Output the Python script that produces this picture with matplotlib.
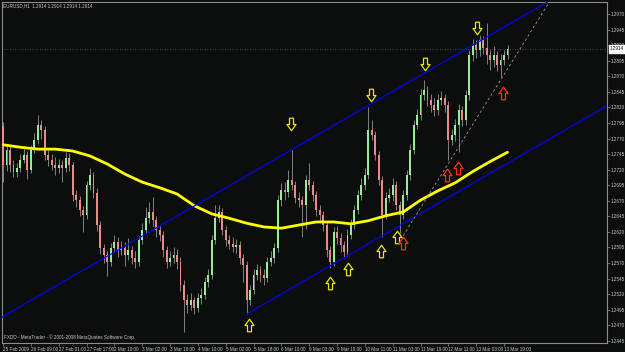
import matplotlib
matplotlib.use("Agg")
from matplotlib import pyplot as plt
from matplotlib.path import Path
import matplotlib.transforms as mtransforms
import numpy as np

plt.rcParams["font.family"] = ["Liberation Sans", "DejaVu Sans"]

# EURUSD H1 (25 Feb - 13 Mar 2009), one candle per 2 hours
first_open = 1.2790
closes = [1.2728, 1.2752, 1.2728, 1.2716, 1.2723, 1.2736, 1.2744, 1.2720, 1.2752, 1.2768,
          1.2792, 1.2784, 1.2744, 1.2736, 1.2728, 1.2723, 1.2728, 1.2723, 1.2739, 1.2728,
          1.2679, 1.2671, 1.2655, 1.2647, 1.2695, 1.2711, 1.2683, 1.2631, 1.2594, 1.2583,
          1.2572, 1.2594, 1.2604, 1.2591, 1.2594, 1.2583, 1.2591, 1.2578, 1.2572, 1.2607,
          1.2623, 1.2642, 1.2652, 1.2639, 1.2623, 1.2615, 1.2591, 1.2572, 1.2578, 1.2583,
          1.2572, 1.2535, 1.2511, 1.2503, 1.2511, 1.2498, 1.2514, 1.2519, 1.2540, 1.2551,
          1.2607, 1.2642, 1.2652, 1.2623, 1.2607, 1.2601, 1.2596, 1.2599, 1.2578, 1.2567,
          1.2511, 1.2527, 1.2551, 1.2559, 1.2551, 1.2546, 1.2572, 1.2578, 1.2594, 1.2671,
          1.2687, 1.2684, 1.2703, 1.2695, 1.2675, 1.2671, 1.2663, 1.2703, 1.2695, 1.2679,
          1.2655, 1.2647, 1.2631, 1.2591, 1.2572, 1.2620, 1.2610, 1.2599, 1.2588, 1.2615,
          1.2631, 1.2655, 1.2679, 1.2695, 1.2711, 1.2784, 1.2776, 1.2744, 1.2703, 1.2647,
          1.2675, 1.2679, 1.2695, 1.2663, 1.2647, 1.2679, 1.2711, 1.2752, 1.2792, 1.2808,
          1.2840, 1.2848, 1.2832, 1.2824, 1.2816, 1.2832, 1.2835, 1.2824, 1.2768, 1.2776,
          1.2792, 1.2816, 1.2800, 1.2840, 1.2904, 1.2920, 1.2912, 1.2928, 1.2915, 1.2904,
          1.2896, 1.2904, 1.2888, 1.2896, 1.2904, 1.2914]
highs = [1.2796, 1.2760, 1.2758, 1.2735, 1.2731, 1.2745, 1.2755, 1.2750, 1.2760, 1.2779,
         1.2808, 1.2800, 1.2790, 1.2752, 1.2745, 1.2740, 1.2737, 1.2735, 1.2748, 1.2747,
         1.2733, 1.2688, 1.2678, 1.2662, 1.2702, 1.2722, 1.2716, 1.2690, 1.2638, 1.2600,
         1.2590, 1.2602, 1.2615, 1.2612, 1.2606, 1.2604, 1.2610, 1.2598, 1.2590, 1.2614,
         1.2634, 1.2660, 1.2668, 1.2676, 1.2645, 1.2630, 1.2622, 1.2598, 1.2590, 1.2596,
         1.2592, 1.2580, 1.2542, 1.2520, 1.2522, 1.2516, 1.2522, 1.2530, 1.2548, 1.2560,
         1.2615, 1.2663, 1.2663, 1.2658, 1.2630, 1.2615, 1.2612, 1.2608, 1.2605, 1.2585,
         1.2574, 1.2535, 1.2560, 1.2568, 1.2566, 1.2560, 1.2580, 1.2590, 1.2602, 1.2680,
         1.2698, 1.2700, 1.2720, 1.2752, 1.2702, 1.2684, 1.2678, 1.2712, 1.2730, 1.2702,
         1.2686, 1.2664, 1.2654, 1.2638, 1.2598, 1.2628, 1.2630, 1.2618, 1.2606, 1.2624,
         1.2640, 1.2664, 1.2688, 1.2706, 1.2722, 1.2821, 1.2800, 1.2782, 1.2750, 1.2710,
         1.2684, 1.2690, 1.2706, 1.2702, 1.2670, 1.2688, 1.2720, 1.2762, 1.2800, 1.2818,
         1.2850, 1.2864, 1.2855, 1.2842, 1.2835, 1.2842, 1.2846, 1.2842, 1.2830, 1.2786,
         1.2802, 1.2825, 1.2822, 1.2848, 1.2912, 1.2930, 1.2928, 1.2936, 1.2935, 1.2956,
         1.2912, 1.2918, 1.2910, 1.2905, 1.2912, 1.2920]
lows = [1.2700, 1.2718, 1.2716, 1.2708, 1.2709, 1.2717, 1.2730, 1.2705, 1.2714, 1.2746,
        1.2762, 1.2770, 1.2735, 1.2726, 1.2720, 1.2712, 1.2714, 1.2700, 1.2716, 1.2718,
        1.2670, 1.2660, 1.2645, 1.2620, 1.2640, 1.2688, 1.2675, 1.2622, 1.2585, 1.2570,
        1.2550, 1.2565, 1.2588, 1.2580, 1.2583, 1.2566, 1.2575, 1.2568, 1.2562, 1.2566,
        1.2600, 1.2618, 1.2635, 1.2630, 1.2612, 1.2605, 1.2580, 1.2562, 1.2565, 1.2570,
        1.2560, 1.2525, 1.2459, 1.2490, 1.2495, 1.2488, 1.2492, 1.2505, 1.2512, 1.2532,
        1.2545, 1.2600, 1.2636, 1.2615, 1.2598, 1.2592, 1.2588, 1.2586, 1.2568, 1.2540,
        1.2488, 1.2502, 1.2520, 1.2542, 1.2540, 1.2535, 1.2540, 1.2565, 1.2570, 1.2588,
        1.2662, 1.2672, 1.2676, 1.2688, 1.2666, 1.2660, 1.2612, 1.2625, 1.2688, 1.2670,
        1.2646, 1.2638, 1.2622, 1.2580, 1.2562, 1.2566, 1.2600, 1.2588, 1.2578, 1.2582,
        1.2608, 1.2625, 1.2648, 1.2672, 1.2688, 1.2705, 1.2768, 1.2735, 1.2695, 1.2612,
        1.2640, 1.2668, 1.2670, 1.2655, 1.2618, 1.2640, 1.2672, 1.2704, 1.2745, 1.2785,
        1.2800, 1.2832, 1.2822, 1.2812, 1.2806, 1.2808, 1.2824, 1.2812, 1.2736, 1.2760,
        1.2766, 1.2749, 1.2790, 1.2792, 1.2832, 1.2895, 1.2900, 1.2902, 1.2905, 1.2890,
        1.2880, 1.2885, 1.2878, 1.2869, 1.2888, 1.2898]

# yellow moving average, sampled every 5 candles
ma_idx = [0, 5, 10, 15, 20, 25, 30, 35, 40, 45, 50, 55, 60, 65, 70,
          75, 80, 85, 90, 95, 100, 105, 110, 115, 120, 125, 130, 135, 140, 145]
ma_vals = [1.2760, 1.2756, 1.2753, 1.2753, 1.2750, 1.2742, 1.2729, 1.2713, 1.2700, 1.2691,
           1.2681, 1.2662, 1.2649, 1.2642, 1.2634, 1.2628, 1.2626, 1.2631, 1.2636, 1.2636,
           1.2633, 1.2638, 1.2646, 1.2652, 1.2671, 1.2686, 1.2699, 1.2717, 1.2733, 1.2748]

# trend lines: (candle index, price) anchor pairs
upper_line = [(-1, 1.2481), (157, 1.2991)]
lower_line = [(70, 1.2488), (170, 1.2811)]
dash_line = [(115, 1.2614), (157, 1.2989)]

# arrow objects
down_yellow_x = [82.8, 105.7, 121.3, 136.2]
down_yellow_y = [1.2793, 1.2840, 1.2890, 1.2948]
up_yellow_x = [70.7, 94.0, 99.1, 108.6, 113.2]
up_yellow_y = [1.2471, 1.2538, 1.2560, 1.2589, 1.2612]
up_red_x = [115.0, 127.6, 130.7, 143.7]
up_red_y = [1.2602, 1.2711, 1.2723, 1.2843]

last_price = 1.2914
xlabels = ["25 Feb 2009", "26 Feb 09:00", "27 Feb 01:00", "27 Feb 17:00", "2 Mar 10:00",
           "3 Mar 02:00", "3 Mar 18:00", "4 Mar 10:00", "5 Mar 02:00", "5 Mar 18:00",
           "6 Mar 10:00", "9 Mar 03:00", "9 Mar 19:00", "10 Mar 11:00", "11 Mar 03:00",
           "11 Mar 19:00", "12 Mar 11:00", "13 Mar 03:00", "13 Mar 19:00"]
yticks = [1.2445, 1.2470, 1.2495, 1.2520, 1.2545, 1.2570, 1.2595, 1.2620, 1.2645, 1.2670,
          1.2695, 1.2720, 1.2745, 1.2770, 1.2795, 1.2820, 1.2845, 1.2870, 1.2895, 1.2920,
          1.2945, 1.2970]

BG = "#0c0d0d"
GRID = "#8c8c8c"
TXT = "#c8c8c8"
FS = 3.3

fig = plt.figure(figsize=(6.25, 3.52), dpi=100, facecolor=BG)
ax = fig.add_axes([2 / 625, 9 / 352, 605 / 625, 341 / 352], facecolor=BG)

c = np.array(closes)
o = np.array([first_open] + closes[:-1])
x = np.arange(len(c))
up = c >= o

ax.vlines(x, lows, highs, color="#a0a0a0", lw=0.55, zorder=2)
body = np.where(np.abs(c - o) < 0.00008, 0.00008, c - o)
ax.bar(x[up], body[up], bottom=o[up], width=0.55, color="#98ec98", zorder=3)
ax.bar(x[~up], body[~up], bottom=o[~up], width=0.55, color="#f08888", zorder=3)

ax.plot(ma_idx, ma_vals, color="#ffff00", lw=2.0, solid_capstyle="round", zorder=4)


def ray(p, x_start, x_end):
    (x0, y0), (x1, y1) = p
    k = (y1 - y0) / (x1 - x0)
    return [x_start, x_end], [y0 + k * (x_start - x0), y0 + k * (x_end - x0)]


lx, ly = ray(upper_line, -5, 200)
ax.plot(lx, ly, color="#0000ff", lw=0.85, zorder=5)
lx, ly = ray(lower_line, lower_line[0][0], 200)
ax.plot(lx, ly, color="#0000ff", lw=0.85, zorder=5)
lx, ly = ray(dash_line, dash_line[0][0], 200)
ax.plot(lx, ly, color="#9a9a9a", lw=0.6, ls=(0, (3, 3)), zorder=5)

# hollow arrow markers
dn = Path([(-0.16, 0.5), (0.16, 0.5), (0.16, 0.0), (0.36, 0.0), (0.0, -0.5),
           (-0.36, 0.0), (-0.16, 0.0), (-0.16, 0.5)], closed=True)
upm = Path([(xx, -yy) for xx, yy in dn.vertices], closed=True)
ax.plot(down_yellow_x, down_yellow_y, ls="none", marker=dn, ms=9, mfc="none",
        mec="#e8e800", mew=0.9, zorder=6)
ax.plot(up_yellow_x, up_yellow_y, ls="none", marker=upm, ms=9, mfc="none",
        mec="#e8e800", mew=0.9, zorder=6)
ax.plot(up_red_x, up_red_y, ls="none", marker=upm, ms=9, mfc="none",
        mec="#ff3010", mew=0.9, zorder=6)

ax.axhline(last_price, color="#56606a", lw=0.6, ls=(0, (1, 2)), zorder=1)

ax.set_xlim(-0.3, 173.6)
ax.set_ylim(1.24416, 1.29893)

ax.yaxis.tick_right()
ax.set_yticks(yticks)
ax.set_yticklabels(["%.4f" % v for v in yticks])
ax.set_xticks([8 * k for k in range(len(xlabels))])
ax.set_xticklabels(xlabels)
for t in ax.get_xticklabels():
    t.set_ha("left")
ax.tick_params(axis="both", colors=GRID, labelcolor=TXT, labelsize=FS, length=2, width=0.5, pad=1)
ax.tick_params(axis="y", pad=0.8)
for s in ax.spines.values():
    s.set_color(GRID)
    s.set_linewidth(0.8)

tr = mtransforms.blended_transform_factory(ax.transAxes, ax.transData)
ax.text(1.0045, last_price, "%.4f" % last_price, transform=tr, ha="left", va="center",
        fontsize=FS, color="black", clip_on=False, zorder=10,
        bbox=dict(boxstyle="square,pad=0.25", fc="white", ec="white"))

fig.text(3 / 625, 1 - 6 / 352, "EURUSD,H1  1.2914 1.2914 1.2914 1.2914", fontsize=FS,
         color=TXT, va="center", ha="left")
ax.text(0.003, 0.018, "FXDD - MetaTrader - \u00a9 2001-2008 MetaQuotes Software Corp.",
        transform=ax.transAxes, fontsize=FS, color=TXT, va="center", ha="left")

plt.savefig("out.png", dpi=100, facecolor=BG)
